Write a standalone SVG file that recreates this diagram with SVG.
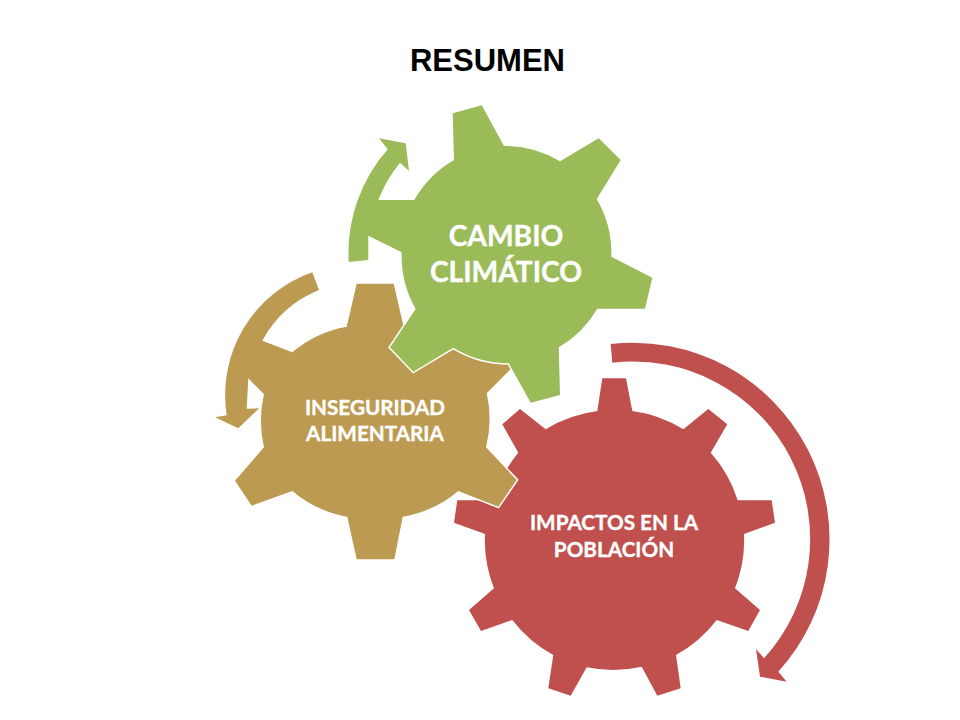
<svg xmlns="http://www.w3.org/2000/svg" width="960" height="720" viewBox="0 0 960 720">
<style>
.gear{stroke:#fff;stroke-width:3;stroke-linejoin:miter;paint-order:stroke}
.lbl{font-family:"Lato","Carlito","Open Sans",sans-serif;font-weight:700;fill:#fff;stroke:#fff;stroke-width:.35;text-anchor:middle}
</style>
<rect width="960" height="720" fill="#fff"/>
<text x="487.5" y="71" font-family="Liberation Sans, Arial, sans-serif" font-weight="700" font-size="31" text-anchor="middle" fill="#000">RESUMEN</text>
<g id="impactos">
<path fill="#C0504D" d="M597.3 411L602.3 378.3L626 378.3L632.3 411A130 130 0 0 1 683.3 429.3L708.3 409L727.3 424.3L710.7 452.7A130 130 0 0 1 737.7 500.3L771.7 500.3L775 522.7L744 534A130 130 0 0 1 735 588.3L760 610L748.3 631L716.7 620A130 130 0 0 1 676 655L680.7 688.3L657.3 695.7L641.7 666.7A130 130 0 0 1 586.7 667.3L570.7 695.7L548.3 688.3L553.3 655A130 130 0 0 1 512.3 620L481 631L469 610L494 588.3A130 130 0 0 1 485 534L454 522.7L457.3 500.3L493.3 500.3A130 130 0 0 1 518.3 452.7L502.3 424.3L520 409L545.7 429.3A130 130 0 0 1 597.3 411Z"/>
<path fill="#C0504D" d="M610.7 344A196.6 196.6 0 0 1 778.3 671.7L786.7 681.7L760 676.7L756 649L764 658.3A177.4 177.4 0 0 0 612.3 362.7Z"/>
<text class="lbl" font-size="20.7" x="614" y="530">IMPACTOS EN LA</text>
<text class="lbl" font-size="20.7" x="614" y="556.5">POBLACIÓN</text>
</g>
<g id="inseguridad">
<path class="gear" fill="#BD9A51" d="M346.7 326.7L356.7 283.7L393.7 283.7L403.7 327A115 115 0 0 1 458.3 352L498.3 336.3L516.7 363L486.7 393.3A115 115 0 0 1 486 447.3L516.7 480L498.3 506.7L458.3 491A115 115 0 0 1 402.7 516.7L394.3 559.3L356.7 559.3L347.3 516.7A115 115 0 0 1 292.3 491L251.7 505.7L235 480.7L264 447.3A115 115 0 0 1 264 394.3L248.3 378.3L246.7 408.7L259 408.3L238.3 428.3L215 417.3L226.7 415.3A130 130 0 0 1 312.3 272.3L319 290A112 112 0 0 0 262.3 340.7L292.3 352.3A115 115 0 0 1 346.7 326.7Z"/>
<text class="lbl" font-size="20.7" x="375" y="415">INSEGURIDAD</text>
<text class="lbl" font-size="20.7" x="375" y="441">ALIMENTARIA</text>
</g>
<g id="cambio">
<path class="gear" fill="#9BBB59" d="M452.7 113.3L481.7 105.3L504 146A107 107 0 0 1 560 161.3L598.7 138.3L620.7 160L596.7 199A107 107 0 0 1 611.3 256.7L652.3 277.7L645 308.7L597.3 308.7A107 107 0 0 1 558.7 347.3L560 395L530.7 402.7L508.7 363.3A107 107 0 0 1 453.3 347.7L413.3 371.7L390 347.3L415.7 309A107 107 0 0 1 401.7 252.3L368.3 235.7L368.3 260L348.7 262A157 157 0 0 1 387.7 149.3L379 138.3L405.7 143.3L409 171L400 162.7A138 138 0 0 0 378.3 200L414.3 200A107 107 0 0 1 454 160Z"/>
<text class="lbl" font-size="28.2" x="506" y="246">CAMBIO</text>
<text class="lbl" font-size="28.2" x="506" y="282">CLIMÁTICO</text>
</g>
</svg>
